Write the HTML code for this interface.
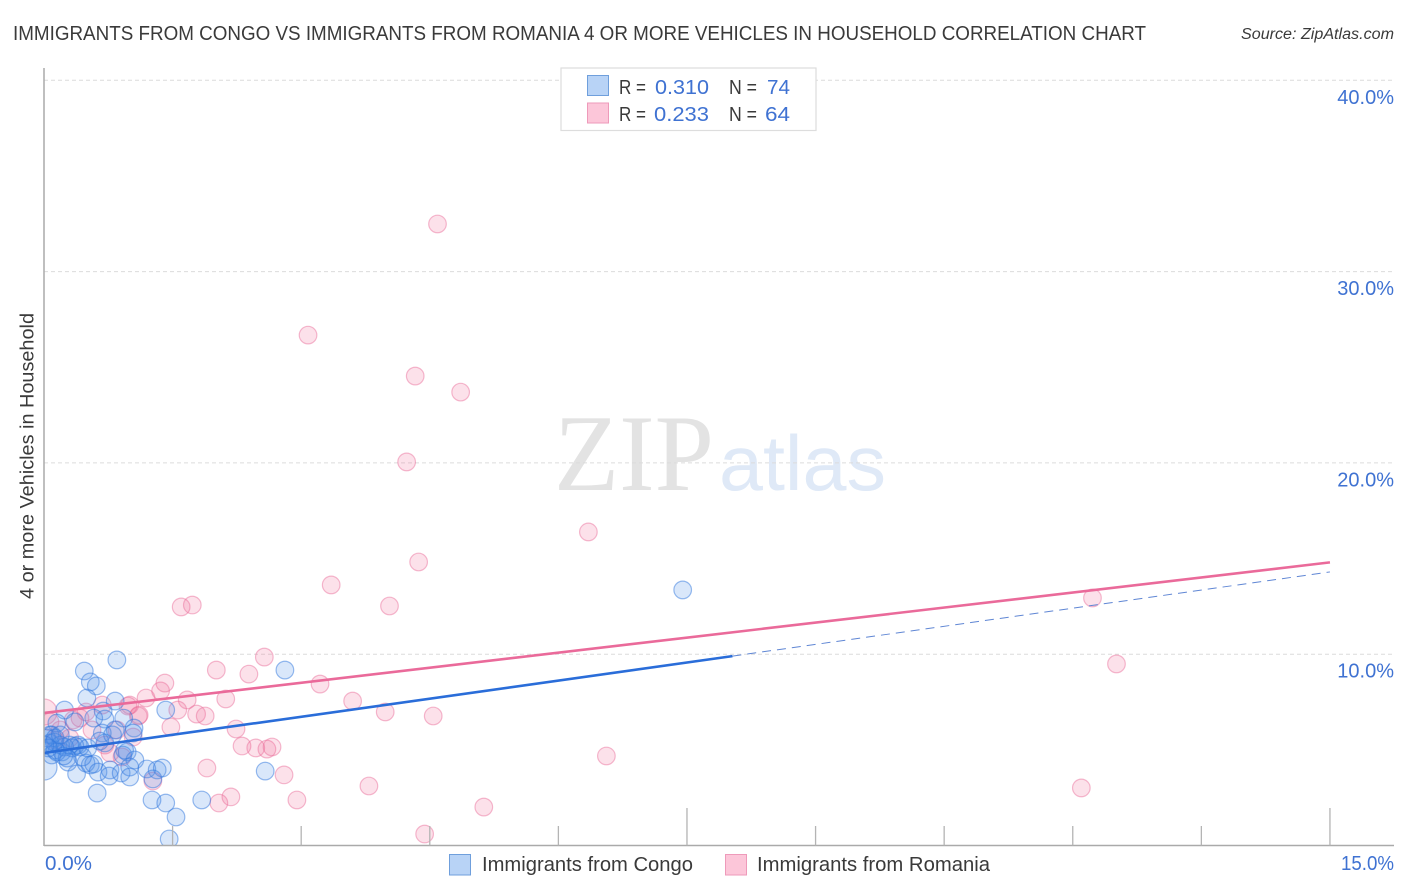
<!DOCTYPE html>
<html lang="en">
<head>
<meta charset="utf-8">
<title>Immigrants from Congo vs Immigrants from Romania 4 or more Vehicles in Household Correlation Chart</title>
<style>
html,body{margin:0;padding:0;background:#fff;width:1406px;height:892px;overflow:hidden}
svg{display:block}
text{font-family:"Liberation Sans",sans-serif}
</style>
</head>
<body>
<svg id="chart" xmlns="http://www.w3.org/2000/svg" width="1406" height="892" viewBox="0 0 1406 892">
  <defs>
    <clipPath id="plot-clip"><rect x="44" y="68" width="1350" height="777"/></clipPath>
  </defs>
  <rect x="0" y="0" width="1406" height="892" fill="#fff"/>
  <text x="13" y="40" font-size="20" fill="#3a3a3a" textLength="1133" lengthAdjust="spacingAndGlyphs">IMMIGRANTS FROM CONGO VS IMMIGRANTS FROM ROMANIA 4 OR MORE VEHICLES IN HOUSEHOLD CORRELATION CHART</text>
  <text x="1241" y="39" font-size="15.5" font-style="italic" fill="#3a3a3a" textLength="153" lengthAdjust="spacingAndGlyphs">Source: ZipAtlas.com</text>

  <text x="554" y="490" font-size="109" fill="#e3e3e3" style="font-family:'Liberation Serif',serif" textLength="160" lengthAdjust="spacingAndGlyphs">ZIP</text>
  <text x="719" y="490" font-size="78" fill="#dfe9f7" textLength="167" lengthAdjust="spacingAndGlyphs">atlas</text>

  <g id="grid"></g>
  <g id="pink-points" clip-path="url(#plot-clip)"></g>
  <g id="blue-points" clip-path="url(#plot-clip)"></g>
  <g id="trends"></g>

  <line x1="44" y1="68" x2="44" y2="846" stroke="#aaa" stroke-width="1.5"/>
  <line x1="44" y1="845.5" x2="1394" y2="845.5" stroke="#aaa" stroke-width="1.5"/>
  <g id="x-ticks"></g>
  <g id="y-labels"></g>
  <text x="45" y="870" font-size="20" fill="#3f72d2" textLength="47" lengthAdjust="spacingAndGlyphs">0.0%</text>
  <text x="1341" y="870" font-size="20" fill="#3f72d2" textLength="53" lengthAdjust="spacingAndGlyphs">15.0%</text>

  <text transform="translate(33.5,599) rotate(-90)" font-size="19.5" fill="#3a3a3a" textLength="286" lengthAdjust="spacingAndGlyphs">4 or more Vehicles in Household</text>

  <g>
    <rect x="561" y="68" width="255" height="62.5" fill="#fff" stroke="#ddd" stroke-width="1.2"/>
    <rect x="587.5" y="75.5" width="21" height="20" fill="#b8d3f6" stroke="#6f9fdc" stroke-width="1"/>
    <rect x="587.5" y="103" width="21" height="20" fill="#fcc6d9" stroke="#ee9aba" stroke-width="1"/>
    <text x="619" y="94" font-size="20" fill="#3a3a3a" textLength="27" lengthAdjust="spacingAndGlyphs">R =</text>
    <text x="655" y="94" font-size="20" fill="#3f72d2" textLength="54" lengthAdjust="spacingAndGlyphs">0.310</text>
    <text x="729" y="94" font-size="20" fill="#3a3a3a" textLength="28" lengthAdjust="spacingAndGlyphs">N =</text>
    <text x="767" y="94" font-size="20" fill="#3f72d2" textLength="23" lengthAdjust="spacingAndGlyphs">74</text>
    <text x="619" y="121" font-size="20" fill="#3a3a3a" textLength="27" lengthAdjust="spacingAndGlyphs">R =</text>
    <text x="654" y="121" font-size="20" fill="#3f72d2" textLength="55" lengthAdjust="spacingAndGlyphs">0.233</text>
    <text x="729" y="121" font-size="20" fill="#3a3a3a" textLength="28" lengthAdjust="spacingAndGlyphs">N =</text>
    <text x="765" y="121" font-size="20" fill="#3f72d2" textLength="25" lengthAdjust="spacingAndGlyphs">64</text>
  </g>

  <g>
    <g>
      <rect x="449.5" y="854.5" width="21" height="20.5" fill="#b8d3f6" stroke="#6f9fdc" stroke-width="1"/>
      <text x="482" y="871" font-size="20" fill="#3a3a3a" textLength="211" lengthAdjust="spacingAndGlyphs">Immigrants from Congo</text>
    </g>
    <g>
      <rect x="725.5" y="854.5" width="21" height="20.5" fill="#fcc6d9" stroke="#ee9aba" stroke-width="1"/>
      <text x="757" y="871" font-size="20" fill="#3a3a3a" textLength="233" lengthAdjust="spacingAndGlyphs">Immigrants from Romania</text>
    </g>
  </g>
</svg>
<script>
var yTickValues = [10, 20, 30, 40];
var yTickLabels = ["10.0%", "20.0%", "30.0%", "40.0%"];
var xTickValues = [1.5, 3, 4.5, 6, 7.5, 9, 10.5, 12, 13.5, 15];

var congoX = [0.85,0.47,0.54,0.61,0.50,0.83,0.24,0.69,1.42,2.81,0.93,0.71,0.58,1.05,1.04,0.83,0.68,0.36,0.15,0.09,0.07,0.13,0.21,0.40,0.42,0.71,0.97,0.92,1.06,0,0.28,0.38,0.49,0.54,0.58,0.63,0.77,0.76,0.90,1.00,1.00,1.20,1.32,1.38,1.27,0.62,1.26,1.42,1.54,1.46,1.84,2.58,7.45,0.07,0.03,0.13,0.19,0.09,0.33,0.36,0.30,0.24,0.45,0.51,0.15,0.27,0.65,0.12,0.05,0.01,0.19,0.23,0.80,0.94];
var congoY = [9.70,9.12,8.55,8.34,7.71,7.55,7.08,7.03,7.08,9.17,6.66,6.61,6.66,6.14,5.88,6.04,5.88,6.46,6.40,5.78,5.36,4.99,4.89,5.25,5.15,5.36,4.89,4.73,4.47,4.10,4.36,3.74,4.31,4.21,4.26,3.84,3.95,3.63,3.79,4.10,3.58,4.00,3.95,4.05,3.48,2.74,2.38,2.22,1.49,0.34,2.38,3.89,13.36,5.78,5.62,5.62,5.25,4.73,5.10,5.20,5.25,5.15,4.63,5.10,4.89,4.57,5.46,5.41,5.10,5.25,5.78,4.68,5.78,4.99];

var romaniaX = [4.59,3.08,4.33,4.86,4.23,6.35,4.37,3.35,4.03,1.60,1.73,12.23,12.51,2.57,2.01,2.39,1.41,3.22,1.19,1.36,1.67,2.12,3.60,3.98,4.54,1.56,1.78,1.88,2.24,1.48,1.11,0.98,2.31,2.47,2.60,2.66,1.90,2.80,2.18,2.04,2.95,3.79,5.13,4.44,6.56,12.10,1.27,0,0.49,0.68,1.00,1.10,0.42,0.34,0.07,0.56,0.77,0.91,1.04,0.85,0.19,0.13,0.30,0.71];
var romaniaY = [32.49,26.68,24.54,23.70,20.05,16.39,14.82,13.62,12.52,12.47,12.57,12.94,9.49,9.85,9.17,8.96,8.49,8.44,7.71,8.08,7.61,7.66,7.55,6.98,6.77,7.08,6.87,6.77,6.09,6.19,6.82,7.29,5.20,5.10,5.04,5.15,4.05,3.69,2.54,2.22,2.38,3.11,2.01,0.60,4.68,3.01,3.37,6.98,6.98,7.34,7.34,6.77,6.66,6.56,6.46,6.04,4.84,4.63,5.67,6.04,6.04,5.51,5.62,5.25];

var congoTrendX = [0, 8.03];
var congoTrendY = [4.84, 9.90];
var congoDashX = [8.03, 15];
var congoDashY = [9.90, 14.30];
var romaniaTrendX = [0, 15];
var romaniaTrendY = [6.93, 14.80];

var SVGNS = "http://www.w3.org/2000/svg";
function X(v) { return 44 + v * 85.73; }
function Y(v) { return 845.5 - v * 19.13; }
function make(tag, parentId, attrs) {
  var el = document.createElementNS(SVGNS, tag);
  for (var k in attrs) { el.setAttribute(k, attrs[k]); }
  document.getElementById(parentId).appendChild(el);
  return el;
}

yTickValues.forEach(function (v, i) {
  var g = make("line", "grid", {x1: 44, x2: 1394, y1: Y(v), y2: Y(v), stroke: "#dcdcdc", "stroke-width": 1, "stroke-dasharray": "4 3"});
  
  
  var t = make("text", "y-labels", {x: 1394, y: Y(v) + 23.5, "text-anchor": "end", "font-size": 20, fill: "#3f72d2"});
  
  
  t.textContent = yTickLabels[i];
});

xTickValues.forEach(function (v) {
  var major = v % 7.5 === 0;
  var tick = make("line", "x-ticks", {x1: X(v), x2: X(v), y1: major ? 808 : 826, y2: 845.5, stroke: "#b4b4b4", "stroke-width": 1.3});
  
  
});

romaniaX.forEach(function (v, i) {
  var c = make("circle", "pink-points", {cx: X(v), cy: Y(romaniaY[i]), r: v === 0 ? 13 : 8.8, fill: "rgba(240,105,150,0.2)", stroke: "rgba(234,110,155,0.48)", "stroke-width": 1.2});
  
  
});

congoX.forEach(function (v, i) {
  var c = make("circle", "blue-points", {cx: X(v), cy: Y(congoY[i]), r: v === 0 ? 13 : 8.8, fill: "rgba(80,145,232,0.22)", stroke: "rgba(50,120,222,0.5)", "stroke-width": 1.2});
  
  
});

var dash = make("line", "trends", {x1: X(congoDashX[0]), y1: Y(congoDashY[0]), x2: X(congoDashX[1]), y2: Y(congoDashY[1]), stroke: "#5f86d4", "stroke-width": 1, "stroke-dasharray": "9 6"});



var blueLine = make("line", "trends", {x1: X(congoTrendX[0]), y1: Y(congoTrendY[0]), x2: X(congoTrendX[1]), y2: Y(congoTrendY[1]), stroke: "#2a6dd9", "stroke-width": 2.6});



var pinkLine = make("line", "trends", {x1: X(romaniaTrendX[0]), y1: Y(romaniaTrendY[0]), x2: X(romaniaTrendX[1]), y2: Y(romaniaTrendY[1]), stroke: "#ea6a9a", "stroke-width": 2.6});


</script>
</body>
</html>
